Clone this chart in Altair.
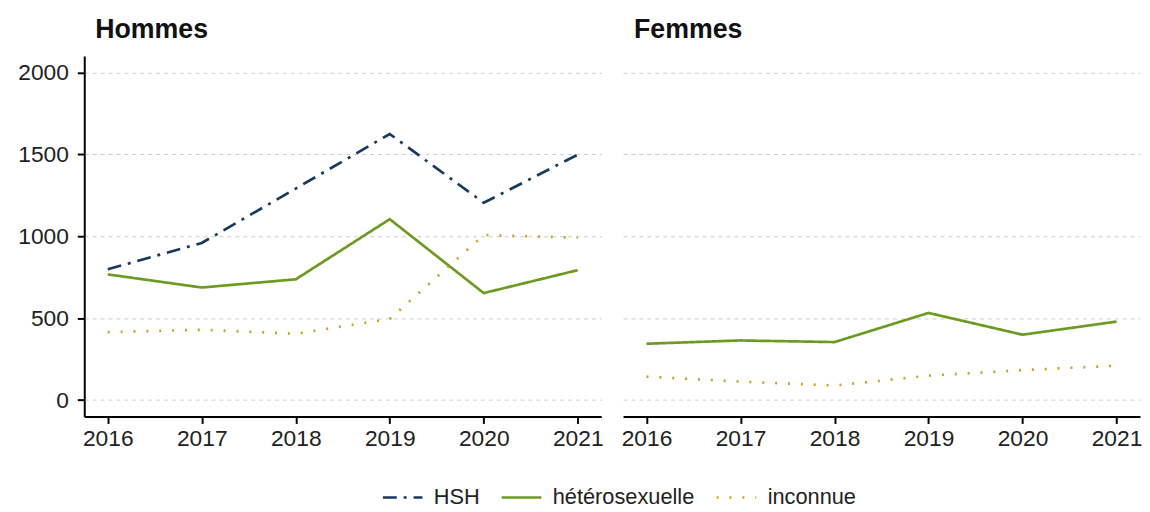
import altair as alt
import pandas as pd

years = [2016, 2017, 2018, 2019, 2020, 2021]
categories = ["HSH", "hétérosexuelle", "inconnue"]

hommes_hsh = [798, 959, 1291, 1624, 1204, 1498]
hommes_hetero = [767, 687, 737, 1104, 653, 793]
hommes_inconnue = [415, 429, 405, 495, 1007, 991]

femmes_hetero = [344, 364, 354, 532, 399, 479]
femmes_inconnue = [143, 113, 89, 149, 183, 210]

colors = ["#173a5e", "#6c9a23", "#c9a227"]
dashes = [[14, 7, 3, 7], [1, 0], [2, 11]]

rows = []
for y, v in zip(years, hommes_hsh):
    rows.append({"sexe": "Hommes", "annee": y, "cat": "HSH", "val": v})
for y, v in zip(years, hommes_hetero):
    rows.append({"sexe": "Hommes", "annee": y, "cat": "hétérosexuelle", "val": v})
for y, v in zip(years, hommes_inconnue):
    rows.append({"sexe": "Hommes", "annee": y, "cat": "inconnue", "val": v})
for y, v in zip(years, femmes_hetero):
    rows.append({"sexe": "Femmes", "annee": y, "cat": "hétérosexuelle", "val": v})
for y, v in zip(years, femmes_inconnue):
    rows.append({"sexe": "Femmes", "annee": y, "cat": "inconnue", "val": v})
df = pd.DataFrame(rows)

FONT = "Liberation Sans"

xscale = alt.Scale(domain=[2015.75, 2021.25], nice=False, zero=False)
yscale = alt.Scale(domain=[-100, 2100], nice=False, zero=False)

color_enc = alt.Color("cat:N", title=None,
                      scale=alt.Scale(domain=categories, range=colors),
                      legend=alt.Legend(orient="none", direction="horizontal",
                                        legendX=300, legendY=424,
                                        symbolType="stroke", symbolStrokeWidth=2.5,
                                        symbolSize=1600, labelFontSize=22,
                                        labelFont=FONT, columnPadding=16,
                                        labelOffset=10,
                                        labelColor="#222222"))
dash_enc = alt.StrokeDash("cat:N", title=None,
                          scale=alt.Scale(domain=categories, range=dashes))


def panel(sexe, show_y):
    yaxis = alt.Axis(values=[0, 500, 1000, 1500, 2000], format="d", grid=True,
                     gridDash=[4, 4], gridColor="#cccccc", gridWidth=1,
                     labels=show_y, ticks=show_y, domain=show_y,
                     domainColor="#000000", domainWidth=2, tickColor="#000000",
                     tickWidth=2, tickSize=7, labelFontSize=23, labelFont=FONT,
                     labelColor="#222222", title=None, labelPadding=9)
    xaxis = alt.Axis(values=years, format="d", grid=False, domainColor="#000000",
                     domainWidth=2, tickColor="#000000", tickWidth=2, tickSize=7,
                     labelFontSize=23, labelFont=FONT, labelColor="#222222",
                     title=None, labelPadding=4, labelFlush=False)
    return alt.Chart(df[df["sexe"] == sexe]).mark_line(strokeWidth=2.7).encode(
        x=alt.X("annee:Q", scale=xscale, axis=xaxis),
        y=alt.Y("val:Q", scale=yscale, axis=yaxis),
        color=color_enc,
        strokeDash=dash_enc,
    ).properties(
        width=522, height=364,
        title=alt.TitleParams(sexe, anchor="start", frame="group", fontSize=27,
                              font=FONT, fontWeight="bold", dx=11, offset=12,
                              color="#111111"),
    )


chart = alt.hconcat(panel("Hommes", True), panel("Femmes", False), spacing=18).configure(
    background="white", padding={"left": 9, "top": 6, "right": 0, "bottom": 0}
).configure_view(strokeWidth=0, stroke=None)

chart.save("out.html", embed_options={"renderer": "svg", "actions": False})
